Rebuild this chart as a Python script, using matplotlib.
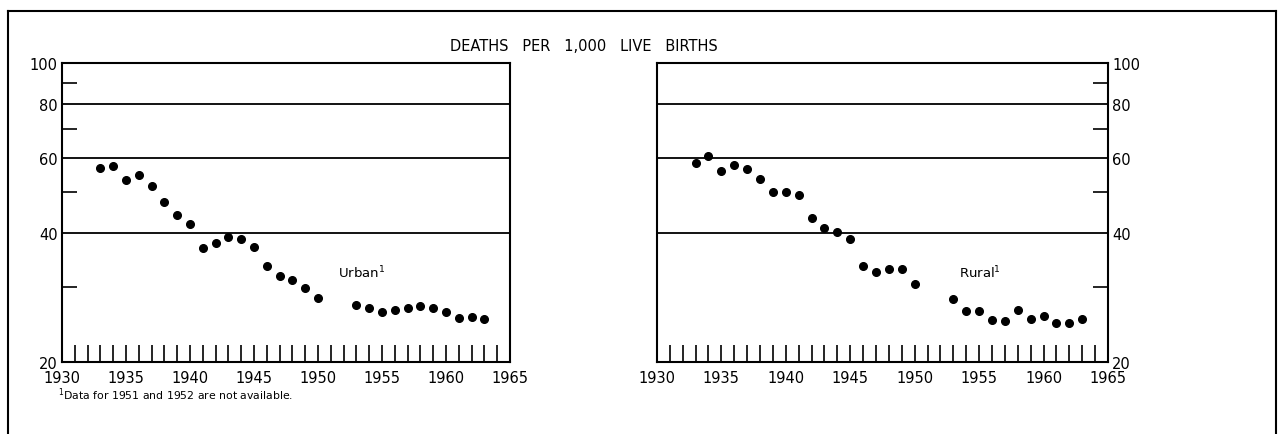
import numpy as np
import matplotlib
matplotlib.use("Agg")
import matplotlib.pyplot as plt
from matplotlib.ticker import FixedLocator, FixedFormatter, NullFormatter

# infant deaths per 1,000 live births (1951, 1952 missing)
years = [1933, 1934, 1935, 1936, 1937, 1938, 1939, 1940, 1941, 1942, 1943,
         1944, 1945, 1946, 1947, 1948, 1949, 1950, 1953, 1954, 1955, 1956,
         1957, 1958, 1959, 1960, 1961, 1962, 1963]
urban = [56.8, 57.4, 53.3, 54.8, 51.6, 47.2, 44.2, 42.0, 36.9, 38.0, 39.1,
         38.7, 37.2, 33.5, 31.7, 31.1, 29.8, 28.2, 27.2, 26.8, 26.2, 26.4,
         26.8, 27.0, 26.8, 26.2, 25.3, 25.5, 25.2]
rural = [58.4, 60.5, 56.0, 57.8, 56.4, 53.5, 50.0, 49.8, 49.1, 43.3, 41.1,
         40.3, 38.7, 33.6, 32.4, 33.0, 33.0, 30.4, 28.1, 26.3, 26.3, 25.1,
         25.0, 26.4, 25.2, 25.6, 24.7, 24.7, 25.2]

xlabels = [1930, 1935, 1940, 1945, 1950, 1955, 1960, 1965]
ylabels = [20, 40, 60, 80, 100]
grid_vals = [40, 60, 80]
minor_y = [30, 50, 70, 90]

fig = plt.figure(figsize=(12.78, 4.35), dpi=100)

def panel(rect, vals, side):
    ax = fig.add_axes(rect)
    ax.set_yscale('log')
    ax.set_xlim(1930, 1965)
    ax.set_ylim(20, 100)
    for g in grid_vals:
        ax.axhline(g, color='black', lw=1.3, zorder=1)
    ax.plot(years, vals, 'o', color='black', ms=5.5, zorder=3)
    for s in ax.spines.values():
        s.set_linewidth(1.5)
    ax.xaxis.remove_overlapping_locs = False
    ax.set_xticks(xlabels)
    ax.set_xticklabels([str(v) for v in xlabels], fontsize=10.5)
    ax.xaxis.set_minor_locator(FixedLocator(list(range(1931, 1965))))
    ax.tick_params(axis='x', which='major', length=0, pad=6)
    ax.tick_params(axis='x', which='minor', direction='in', length=12,
                   width=1.2)
    ax.yaxis.set_major_locator(FixedLocator(ylabels))
    ax.yaxis.set_major_formatter(FixedFormatter([str(v) for v in ylabels]))
    ax.yaxis.set_minor_locator(FixedLocator(minor_y))
    ax.yaxis.set_minor_formatter(NullFormatter())
    if side == 'right':
        ax.yaxis.tick_right()
        ax.tick_params(axis='y', which='both', left=False)
    ax.tick_params(axis='y', which='major', length=0, labelsize=10.5, pad=3)
    ax.tick_params(axis='y', which='minor', direction='in', length=11,
                   width=1.2)
    return ax

ax1 = panel([0.0485, 0.1655, 0.3505, 0.6875], urban, 'left')
ax2 = panel([0.514, 0.1655, 0.353, 0.6875], rural, 'right')

ax1.text(1951.6, 32.4, 'Urban$^{1}$', fontsize=9.5, va='center')
ax2.text(1953.4, 32.4, 'Rural$^{1}$', fontsize=9.5, va='center')

fig.text(0.457, 0.892, 'DEATHS   PER   1,000   LIVE   BIRTHS', fontsize=10.5,
         ha='center', va='center')
fig.text(0.045, 0.092, '$^{1}$Data for 1951 and 1952 are not available.',
         fontsize=7.8, va='center')

# border around the figure
fig.add_artist(plt.Line2D([0.0065, 0.0065], [0.0, 0.972], color='black', lw=1.5))
fig.add_artist(plt.Line2D([0.0065, 0.9985], [0.972, 0.972], color='black', lw=1.5))
fig.add_artist(plt.Line2D([0.9985, 0.9985], [0.0, 0.972], color='black', lw=1.5))

fig.savefig('out.png', dpi=100)
